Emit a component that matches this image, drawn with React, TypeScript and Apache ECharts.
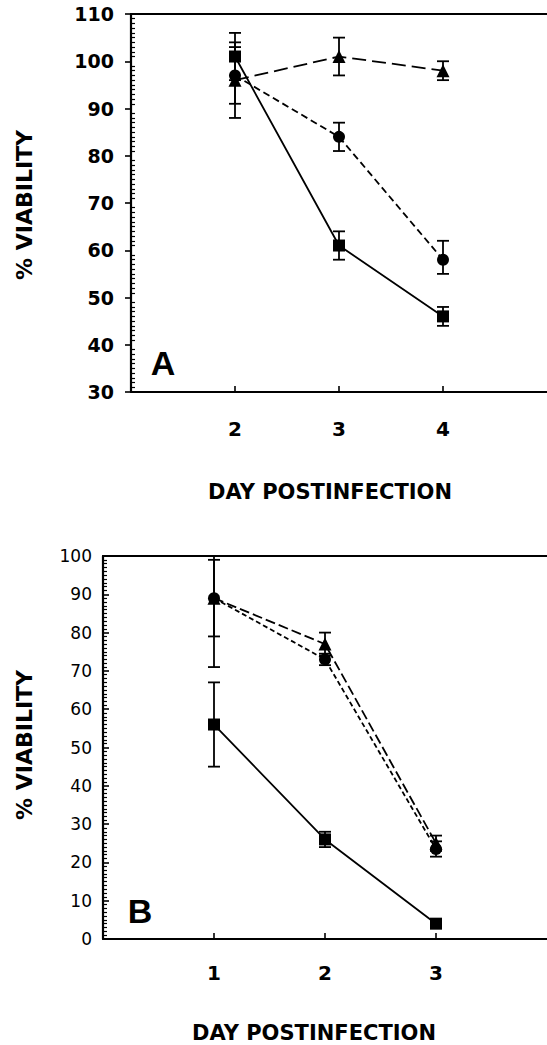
import React, { useEffect, useRef } from "react";
import * as echarts from "echarts";

// Panel A data
const daysA = [2, 3, 4];
const triA = [96, 101, 98];
const triAErr = [[88, 104], [97, 105], [96, 100]];
const circA = [97, 84, 58];
const circAErr = [[91, 103], [81, 87], [55, 62]];
const sqA = [101, 61, 46];
const sqAErr = [[96, 106], [58, 64], [44, 48]];
const xTicksA = [2, 3, 4];
const yRangeA = [30, 110];

// Panel B data
const daysB = [1, 2, 3];
const triB = [89, 77, 25];
const triBErr = [[79, 99], [74, 80], [23, 27]];
const circB = [89, 73, 23.5];
const circBErr = [[71, 107], [71.5, 74.5], [21.5, 25.5]];
const sqB = [56, 26, 4];
const sqBErr = [[45, 67], [24, 28], [3, 5]];
const xTicksB = [1, 2, 3];
const yRangeB = [0, 100];

const BOLD = "DejaVu Sans";

function errSeries(days: number[], err: number[][], ai: number) {
  return {
    type: "custom",
    xAxisIndex: ai * 2,
    yAxisIndex: ai === 0 ? 0 : 2,
    clip: true,
    z: 2,
    data: days.map((d, i) => [d, err[i][0], err[i][1]]),
    renderItem: (params: any, api: any) => {
      const lo = api.coord([api.value(0), api.value(1)]);
      const hi = api.coord([api.value(0), api.value(2)]);
      const w = 6;
      const style = { stroke: "#000", lineWidth: 1.8 };
      return {
        type: "group",
        children: [
          { type: "line", shape: { x1: lo[0], y1: lo[1], x2: hi[0], y2: hi[1] }, style },
          { type: "line", shape: { x1: lo[0] - w, y1: lo[1], x2: lo[0] + w, y2: lo[1] }, style },
          { type: "line", shape: { x1: hi[0] - w, y1: hi[1], x2: hi[0] + w, y2: hi[1] }, style },
        ],
      };
    },
  };
}

function lineSeries(days: number[], vals: number[], symbol: string, dash: any, ai: number, size = 12) {
  return {
    type: "line",
    xAxisIndex: ai * 2,
    yAxisIndex: ai === 0 ? 0 : 2,
    data: days.map((d, i) => [d, vals[i]]),
    symbol,
    symbolSize: size,
    showSymbol: true,
    lineStyle: { color: "#000", width: 1.8, type: dash },
    itemStyle: { color: "#000" },
    z: 3,
  };
}

function xAxes(gridIndex: number, min: number, max: number, ticks: number[], margin: number) {
  return [
    {
      type: "value",
      gridIndex,
      min,
      max,
      interval: 1,
      axisLine: { show: true, onZero: false, lineStyle: { color: "#000", width: 2.2 } },
      axisTick: { show: true, inside: true, length: 6, customValues: ticks, lineStyle: { color: "#000", width: 1.6 } },
      axisLabel: {
        customValues: ticks,
        margin,
        fontSize: 20,
        fontWeight: "bold",
        fontFamily: BOLD,
        color: "#000",
      },
      splitLine: { show: false },
    },
    {
      type: "value",
      gridIndex,
      position: "top",
      min,
      max,
      axisLine: { show: true, onZero: false, lineStyle: { color: "#000", width: 2.2 } },
      axisTick: { show: false },
      axisLabel: { show: false },
      splitLine: { show: false },
    },
  ];
}

export default function App() {
  const ref = useRef<HTMLDivElement>(null);
  useEffect(() => {
    if (!ref.current) return;
    const chart = echarts.init(ref.current, null, { renderer: "svg" });
    const option: any = {
      animation: false,
      backgroundColor: "#fff",
      grid: [
        { left: 131, top: 14, width: 416, height: 378 },
        { left: 103, top: 556, width: 452, height: 383 },
      ],
      xAxis: [...xAxes(0, 1, 5, xTicksA, 27), ...xAxes(1, 0, 4, xTicksB, 24)],
      yAxis: [
        {
          type: "value",
          gridIndex: 0,
          position: "left",
          min: yRangeA[0],
          max: yRangeA[1],
          interval: 10,
          axisLine: { show: true, onZero: false, lineStyle: { color: "#000", width: 2.2 } },
          axisTick: { show: true, inside: true, length: 0.01, lineStyle: { color: "#000", width: 0.1 } },
          minorTick: { show: true, splitNumber: 10, length: 4, lineStyle: { color: "#000", width: 1.2 } },
          axisLabel: { margin: 17, fontSize: 19, fontWeight: "bold", fontFamily: BOLD, color: "#000" },
          splitLine: { show: false },
        },
        {
          type: "value",
          gridIndex: 0,
          position: "left",
          offset: 0,
          min: yRangeA[0],
          max: yRangeA[1],
          interval: 10,
          axisLine: { show: false, onZero: false },
          axisTick: { show: true, inside: false, length: 6, lineStyle: { color: "#000", width: 1.6 } },
          axisLabel: { show: false },
          splitLine: { show: false },
        },
        {
          type: "value",
          gridIndex: 1,
          position: "left",
          min: yRangeB[0],
          max: yRangeB[1],
          interval: 10,
          axisLine: { show: true, onZero: false, lineStyle: { color: "#000", width: 2.2 } },
          axisTick: { show: true, inside: true, length: 6, lineStyle: { color: "#000", width: 1.6 } },
          minorTick: { show: true, splitNumber: 10, length: 4, lineStyle: { color: "#000", width: 1.2 } },
          axisLabel: { margin: 11, fontSize: 17, fontFamily: "DejaVu Sans", color: "#000" },
          splitLine: { show: false },
        },
      ],
      series: [
        errSeries(daysA, triAErr, 0),
        errSeries(daysA, circAErr, 0),
        errSeries(daysA, sqAErr, 0),
        lineSeries(daysA, triA, "triangle", [14, 6], 0, 13),
        lineSeries(daysA, circA, "circle", [7, 4], 0),
        lineSeries(daysA, sqA, "rect", "solid", 0),
        errSeries(daysB, triBErr, 1),
        errSeries(daysB, circBErr, 1),
        errSeries(daysB, sqBErr, 1),
        lineSeries(daysB, triB, "triangle", [10, 4], 1, 13),
        lineSeries(daysB, circB, "circle", [5, 3], 1),
        lineSeries(daysB, sqB, "rect", "solid", 1),
      ],
      graphic: [
        {
          type: "text",
          x: 24,
          y: 205,
          rotation: Math.PI / 2,
          style: { text: "% VIABILITY", fontSize: 22, fontWeight: "bold", fontFamily: BOLD, fill: "#000", align: "center", verticalAlign: "middle" },
        },
        {
          type: "text",
          x: 330,
          y: 492,
          style: { text: "DAY POSTINFECTION", fontSize: 21, fontWeight: "bold", fontFamily: BOLD, fill: "#000", align: "center", verticalAlign: "middle" },
        },
        {
          type: "text",
          x: 163,
          y: 363,
          style: { text: "A", fontSize: 34, fontWeight: "bold", fontFamily: "Liberation Sans", fill: "#000", align: "center", verticalAlign: "middle" },
        },
        {
          type: "text",
          x: 24,
          y: 745,
          rotation: Math.PI / 2,
          style: { text: "% VIABILITY", fontSize: 22, fontWeight: "bold", fontFamily: BOLD, fill: "#000", align: "center", verticalAlign: "middle" },
        },
        {
          type: "text",
          x: 314,
          y: 1033,
          style: { text: "DAY POSTINFECTION", fontSize: 21, fontWeight: "bold", fontFamily: BOLD, fill: "#000", align: "center", verticalAlign: "middle" },
        },
        {
          type: "text",
          x: 140,
          y: 911,
          style: { text: "B", fontSize: 34, fontWeight: "bold", fontFamily: "Liberation Sans", fill: "#000", align: "center", verticalAlign: "middle" },
        },
      ],
    };
    chart.setOption(option);
    return () => chart.dispose();
  }, []);
  return (
    <div
      ref={ref}
      style={{ position: "absolute", left: 0, top: 0, width: 547, height: 1045, background: "#fff" }}
    />
  );
}
